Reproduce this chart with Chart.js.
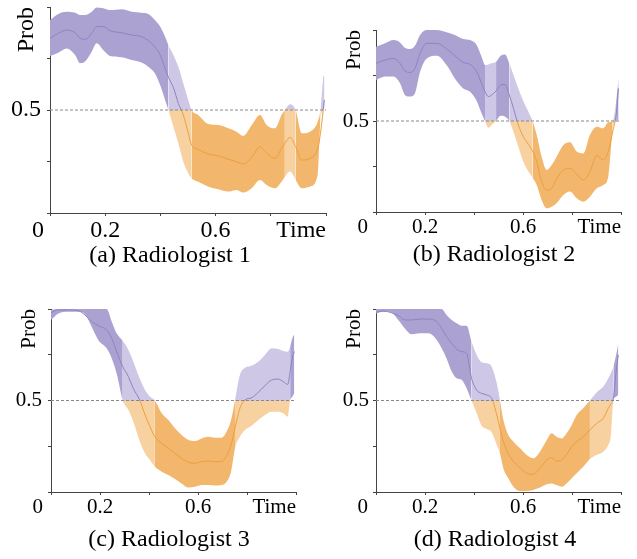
<!DOCTYPE html>
<html>
<head>
<meta charset="utf-8">
<title>Radiologist probability over time</title>
<script src="https://cdn.jsdelivr.net/npm/chart.js"></script>
<style>
  body { margin: 0; background: #fff; }
  #figure { position: relative; width: 637px; height: 559px; overflow: hidden; }
  #figure canvas { position: absolute; }
  .caption {
    position: absolute;
    width: 300px;
    text-align: center;
    font-family: 'Liberation Serif', 'Times New Roman', serif;
    font-size: 24px;
    line-height: 24px;
    color: #000;
    white-space: nowrap;
  }
</style>
</head>
<body>
<div id="figure">
  <canvas id="chartA" width="334" height="244" style="left:0;top:0"></canvas>
  <canvas id="chartB" width="300" height="244" style="left:330px;top:0"></canvas>
  <canvas id="chartC" width="305" height="240" style="left:0;top:290px"></canvas>
  <canvas id="chartD" width="300" height="240" style="left:330px;top:290px"></canvas>
  <div class="caption" id="capA" style="left:20px;top:242px"></div>
  <div class="caption" id="capB" style="left:344px;top:241px"></div>
  <div class="caption" id="capC" style="left:19px;top:526px"></div>
  <div class="caption" id="capD" style="left:345px;top:526px"></div>
</div>

<script>
// decision threshold and labels
const threshold = 0.5;
const xTickLabels = ['', '0.2', '', '0.6', '', 'Time'];
const yTickLabels = ['', '', '0.5', '', ''];
const originLabel = '0';
const yTitle = 'Prob';
const captions = ['(a) Radiologist 1', '(b) Radiologist 2', '(c) Radiologist 3', '(d) Radiologist 4'];

// Radiologist 1
const timeA = [0, 0.030, 0.060, 0.091, 0.109, 0.127, 0.151, 0.169, 0.193, 0.217, 0.260, 0.296, 0.332, 0.356, 0.380,
  0.399, 0.417, 0.429, 0.447, 0.465, 0.483, 0.501, 0.513, 0.537, 0.574, 0.610, 0.646, 0.676, 0.700, 0.731,
  0.761, 0.785, 0.815, 0.839, 0.851, 0.870, 0.890, 0.912, 0.942, 0.970, 0.980, 0.990, 0.994];
const upperA = [0.937, 0.966, 0.977, 0.972, 0.961, 0.961, 0.977, 0.998, 0.994, 0.985, 0.989, 0.977, 0.972, 0.966, 0.937,
  0.905, 0.856, 0.816, 0.767, 0.710, 0.629, 0.549, 0.500, 0.476, 0.432, 0.427, 0.411, 0.395, 0.374, 0.427,
  0.476, 0.427, 0.411, 0.476, 0.500, 0.528, 0.500, 0.387, 0.395, 0.443, 0.500, 0.654, 0.670];
const lowerA = [0.762, 0.778, 0.799, 0.767, 0.727, 0.735, 0.783, 0.824, 0.791, 0.762, 0.756, 0.743, 0.730, 0.710, 0.678,
  0.621, 0.549, 0.500, 0.419, 0.338, 0.249, 0.193, 0.168, 0.152, 0.128, 0.115, 0.104, 0.112, 0.099, 0.120,
  0.160, 0.136, 0.120, 0.152, 0.176, 0.201, 0.160, 0.120, 0.128, 0.184, 0.450, 0.500, 0.516];
const meanA = [0.848, 0.872, 0.888, 0.875, 0.848, 0.843, 0.872, 0.905, 0.905, 0.885, 0.875, 0.864, 0.856, 0.837, 0.807,
  0.767, 0.702, 0.659, 0.610, 0.532, 0.476, 0.387, 0.330, 0.309, 0.286, 0.277, 0.261, 0.249, 0.238, 0.270,
  0.322, 0.290, 0.265, 0.314, 0.338, 0.367, 0.322, 0.257, 0.265, 0.314, 0.387, 0.500, 0.549];

// Radiologist 2
const timeB = [0, 0.037, 0.071, 0.098, 0.118, 0.139, 0.159, 0.180, 0.207, 0.248, 0.288, 0.322, 0.356, 0.384, 0.411,
  0.431, 0.445, 0.459, 0.472, 0.490, 0.509, 0.527, 0.544, 0.561, 0.581, 0.601, 0.622, 0.639, 0.656, 0.676,
  0.697, 0.717, 0.737, 0.765, 0.792, 0.819, 0.846, 0.873, 0.901, 0.928, 0.948, 0.966, 0.980, 0.990];
const upperB = [0.908, 0.927, 0.945, 0.932, 0.903, 0.896, 0.914, 0.973, 1.000, 1.000, 0.987, 0.973, 0.951, 0.945, 0.918,
  0.853, 0.808, 0.811, 0.817, 0.826, 0.859, 0.866, 0.817, 0.753, 0.679, 0.610, 0.551, 0.500, 0.423, 0.304,
  0.231, 0.258, 0.304, 0.368, 0.383, 0.332, 0.322, 0.423, 0.469, 0.460, 0.493, 0.500, 0.606, 0.734];
const lowerB = [0.725, 0.744, 0.744, 0.707, 0.643, 0.634, 0.652, 0.771, 0.844, 0.859, 0.808, 0.734, 0.679, 0.661, 0.610,
  0.542, 0.500, 0.463, 0.478, 0.500, 0.529, 0.524, 0.500, 0.441, 0.359, 0.277, 0.222, 0.189, 0.148, 0.066,
  0.020, 0.029, 0.048, 0.093, 0.112, 0.075, 0.057, 0.084, 0.130, 0.148, 0.194, 0.450, 0.500, 0.505];
const meanB = [0.817, 0.835, 0.844, 0.817, 0.775, 0.767, 0.789, 0.872, 0.927, 0.927, 0.896, 0.859, 0.822, 0.811, 0.771,
  0.707, 0.661, 0.634, 0.643, 0.665, 0.698, 0.701, 0.643, 0.570, 0.478, 0.414, 0.372, 0.335, 0.277, 0.167,
  0.121, 0.130, 0.181, 0.231, 0.240, 0.207, 0.176, 0.222, 0.310, 0.286, 0.332, 0.441, 0.533, 0.679];

// Radiologist 3
const timeC = [0, 0.030, 0.071, 0.112, 0.139, 0.166, 0.193, 0.227, 0.248, 0.268, 0.293, 0.316, 0.336, 0.363, 0.384,
  0.404, 0.424, 0.452, 0.479, 0.506, 0.533, 0.561, 0.588, 0.615, 0.642, 0.669, 0.697, 0.717, 0.735, 0.751,
  0.771, 0.792, 0.819, 0.846, 0.873, 0.901, 0.928, 0.948, 0.966, 0.976, 0.985, 0.993];
const upperC = [0.995, 1, 1, 1, 1, 1, 1, 1, 0.931, 0.867, 0.825, 0.776, 0.712, 0.617, 0.557,
  0.521, 0.500, 0.430, 0.393, 0.348, 0.311, 0.284, 0.279, 0.293, 0.302, 0.297, 0.297, 0.330, 0.393, 0.500,
  0.639, 0.679, 0.690, 0.712, 0.749, 0.785, 0.781, 0.770, 0.767, 0.794, 0.840, 0.862];
const lowerC = [0.940, 0.976, 0.985, 0.985, 0.971, 0.903, 0.831, 0.785, 0.730, 0.648, 0.500, 0.448, 0.384, 0.275, 0.211,
  0.175, 0.138, 0.111, 0.093, 0.071, 0.047, 0.024, 0.029, 0.038, 0.038, 0.035, 0.038, 0.056, 0.111, 0.239,
  0.302, 0.339, 0.362, 0.393, 0.421, 0.439, 0.439, 0.430, 0.412, 0.500, 0.521, 0.539];
const meanC = [0.980, 0.995, 0.995, 0.990, 0.967, 0.931, 0.909, 0.885, 0.840, 0.767, 0.685, 0.630, 0.566, 0.500, 0.421,
  0.357, 0.302, 0.266, 0.239, 0.211, 0.184, 0.162, 0.157, 0.166, 0.169, 0.166, 0.166, 0.199, 0.257, 0.348,
  0.457, 0.503, 0.515, 0.545, 0.581, 0.612, 0.617, 0.603, 0.588, 0.658, 0.730, 0.767];

// Radiologist 4
const timeD = [0, 0.030, 0.057, 0.091, 0.118, 0.146, 0.180, 0.214, 0.248, 0.268, 0.288, 0.309, 0.329, 0.350, 0.370,
  0.390, 0.411, 0.431, 0.452, 0.472, 0.493, 0.506, 0.520, 0.540, 0.561, 0.588, 0.615, 0.642, 0.669, 0.697,
  0.717, 0.737, 0.758, 0.778, 0.799, 0.819, 0.846, 0.873, 0.901, 0.928, 0.948, 0.958, 0.969, 0.980, 0.989];
const upperD = [1, 1, 1, 1, 1, 1, 1, 1, 1, 1, 0.967, 0.940, 0.922, 0.909, 0.909,
  0.821, 0.749, 0.709, 0.703, 0.685, 0.594, 0.500, 0.393, 0.311, 0.275, 0.239, 0.202, 0.184, 0.220, 0.284,
  0.321, 0.302, 0.293, 0.321, 0.366, 0.421, 0.457, 0.500, 0.545, 0.576, 0.621, 0.648, 0.685, 0.749, 0.812];
const lowerD = [0.976, 0.985, 0.985, 0.940, 0.894, 0.862, 0.867, 0.867, 0.831, 0.785, 0.730, 0.658, 0.621, 0.612, 0.566,
  0.500, 0.430, 0.362, 0.344, 0.326, 0.257, 0.211, 0.129, 0.075, 0.029, 0.005, 0.005, 0.011, 0.024, 0.042,
  0.047, 0.038, 0.029, 0.047, 0.075, 0.102, 0.138, 0.180, 0.202, 0.220, 0.257, 0.302, 0.500, 0.521, 0.530];
const meanD = [0.982, 0.989, 0.982, 0.964, 0.940, 0.940, 0.945, 0.945, 0.931, 0.894, 0.849, 0.812, 0.781, 0.767, 0.758,
  0.621, 0.557, 0.539, 0.530, 0.512, 0.421, 0.348, 0.275, 0.211, 0.166, 0.133, 0.102, 0.097, 0.129, 0.175,
  0.188, 0.169, 0.175, 0.206, 0.248, 0.275, 0.302, 0.339, 0.375, 0.403, 0.457, 0.479, 0.512, 0.658, 0.749];

// colours
const PURPLE = 'rgb(172,162,210)';
const PURPLE_LIGHT = 'rgb(206,199,229)';
const ORANGE = 'rgb(242,182,108)';
const ORANGE_LIGHT = 'rgb(248,209,161)';
const LINE_PURPLE = 'rgb(142,130,192)';
const LINE_ORANGE = 'rgb(236,158,60)';
const AXIS = '#444';
const FONT = "'Liberation Serif', 'Times New Roman', serif";

// gradient with a hard stop at the threshold: one colour above, another below
function splitGradient(chart, above, below) {
  const area = chart.chartArea;
  if (!area) return above;
  const key = [area.top, area.bottom, above, below].join('|');
  chart.$grads = chart.$grads || {};
  if (!chart.$grads[key]) {
    const yMid = chart.scales.y.getPixelForValue(threshold);
    const f = Math.min(1, Math.max(0, (yMid - area.top) / (area.bottom - area.top)));
    const g = chart.ctx.createLinearGradient(0, area.top, 0, area.bottom);
    g.addColorStop(0, above);
    g.addColorStop(f, above);
    g.addColorStop(f, below);
    g.addColorStop(1, below);
    chart.$grads[key] = g;
  }
  return chart.$grads[key];
}

// the band is drawn lighter where it straddles the threshold
function straddles(p, i, j) {
  const eps = 1e-9;
  return Math.min(p.upper[i], p.upper[j]) >= threshold - eps &&
         Math.max(p.lower[i], p.lower[j]) <= threshold + eps;
}

const originPlugin = {
  id: 'originLabel',
  afterDraw(chart, args, opts) {
    const a = chart.chartArea;
    const ctx = chart.ctx;
    ctx.save();
    ctx.fillStyle = '#000';
    ctx.font = opts.size + 'px ' + FONT;
    ctx.textAlign = 'right';
    ctx.textBaseline = 'middle';
    ctx.fillText(originLabel, a.left - opts.gap, a.bottom + 3 + opts.size * 0.6);
    ctx.restore();
  }
};

const panels = [
  { id: 'chartA', time: timeA, upper: upperA, lower: lowerA, mean: meanA,
    font: 24, yw: 50, xh: 31, padTop: 7, padRight: 8, titlePad: 12, yTickPad: 6, originGap: 6 },
  { id: 'chartB', time: timeB, upper: upperB, lower: lowerB, mean: meanB,
    font: 21, yw: 46, xh: 32, padTop: 30, padRight: 9, titlePad: 12, yTickPad: 4, originGap: 8 },
  { id: 'chartC', time: timeC, upper: upperC, lower: lowerC, mean: meanC,
    font: 21, yw: 51, xh: 38, padTop: 19, padRight: 9, titlePad: 17, yTickPad: 6, originGap: 8 },
  { id: 'chartD', time: timeD, upper: upperD, lower: lowerD, mean: meanD,
    font: 21, yw: 46, xh: 38, padTop: 19, padRight: 9, titlePad: 12, yTickPad: 4, originGap: 8 }
];

const zip = (xs, ys) => xs.map((x, i) => ({ x: x, y: ys[i] }));

function drawPanel(p) {
  const tickFont = { family: FONT, size: p.font };
  new Chart(document.getElementById(p.id), {
    type: 'line',
    data: {
      datasets: [
        { // threshold
          data: [{ x: 0, y: threshold }, { x: 1, y: threshold }],
          borderColor: '#888', borderWidth: 1, borderDash: [3, 2],
          pointRadius: 0, fill: false, tension: 0
        },
        { // mean
          data: zip(p.time, p.mean),
          borderColor: c => splitGradient(c.chart, LINE_PURPLE, LINE_ORANGE),
          borderWidth: 1, pointRadius: 0, fill: false,
          cubicInterpolationMode: 'monotone'
        },
        { // upper bound, filled down to lower bound
          data: zip(p.time, p.upper),
          borderColor: 'transparent', borderWidth: 0, pointRadius: 0,
          backgroundColor: PURPLE,
          fill: '+1',
          cubicInterpolationMode: 'monotone',
          segment: {
            backgroundColor: c => straddles(p, c.p0DataIndex, c.p1DataIndex)
              ? splitGradient(c.chart, PURPLE_LIGHT, ORANGE_LIGHT)
              : splitGradient(c.chart, PURPLE, ORANGE)
          }
        },
        { // lower bound
          data: zip(p.time, p.lower),
          borderColor: 'transparent', borderWidth: 0, pointRadius: 0,
          fill: false,
          cubicInterpolationMode: 'monotone'
        }
      ]
    },
    options: {
      responsive: false,
      animation: false,
      events: [],
      layout: { padding: { left: 0, top: p.padTop, right: p.padRight, bottom: 0 } },
      plugins: {
        legend: { display: false },
        tooltip: { enabled: false },
        originLabel: { size: p.font, gap: p.originGap }
      },
      scales: {
        x: {
          type: 'linear', min: 0, max: 1,
          border: { display: true, color: AXIS, width: 1 },
          grid: { drawOnChartArea: false, tickLength: 3, color: AXIS },
          ticks: {
            stepSize: 0.2, autoSkip: false, maxRotation: 0, align: 'inner',
            padding: 0, color: '#000', font: tickFont,
            callback: (v, i) => xTickLabels[i]
          },
          afterFit: s => { s.height = p.xh; s.paddingLeft = 0; s.paddingRight = 0; }
        },
        y: {
          type: 'linear', min: 0, max: 1,
          border: { display: true, color: AXIS, width: 1 },
          grid: { drawOnChartArea: false, tickLength: 3, color: AXIS },
          ticks: {
            stepSize: 0.25, autoSkip: false, padding: p.yTickPad,
            color: '#000', font: tickFont,
            callback: (v, i) => yTickLabels[i]
          },
          title: {
            display: true, text: yTitle, align: 'end', color: '#000',
            font: tickFont, padding: { top: p.titlePad, bottom: 0 }
          },
          afterFit: s => { s.width = p.yw; s.paddingTop = 0; s.paddingBottom = 0; }
        }
      }
    },
    plugins: [originPlugin]
  });
}

panels.forEach(drawPanel);
['capA', 'capB', 'capC', 'capD'].forEach((id, i) => {
  document.getElementById(id).textContent = captions[i];
});
</script>
</body>
</html>
